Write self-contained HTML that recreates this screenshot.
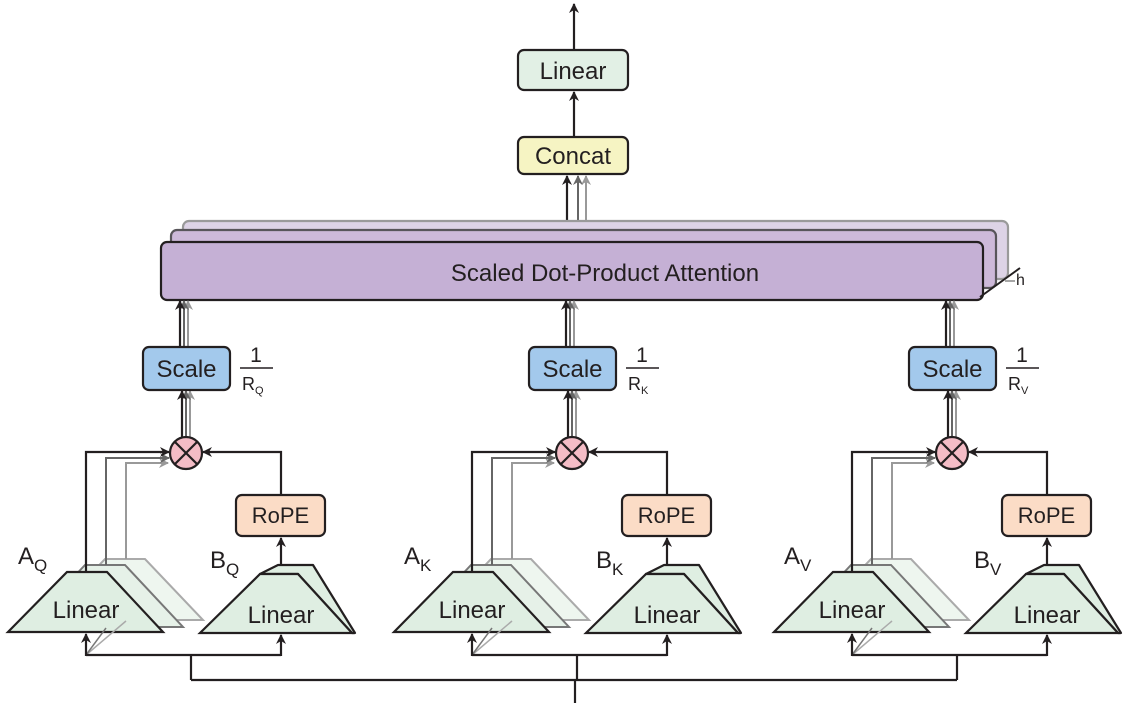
<!DOCTYPE html>
<html><head><meta charset="utf-8"><style>
html,body{margin:0;padding:0;background:#fff}
svg{display:block}
text{font-family:"Liberation Sans",sans-serif;fill:#231f20}
</style></head><body>
<svg width="1128" height="703" viewBox="0 0 1128 703" xmlns="http://www.w3.org/2000/svg">
<defs>
<marker id="ak" markerWidth="10" markerHeight="10" refX="9" refY="5" orient="auto" markerUnits="userSpaceOnUse"><path d="M0,0 L10,5 L0,10 L3,5 Z" fill="#231f20"/></marker>
<marker id="ag" markerWidth="10" markerHeight="10" refX="9" refY="5" orient="auto" markerUnits="userSpaceOnUse"><path d="M0,0 L10,5 L0,10 L3,5 Z" fill="#666"/></marker>
<marker id="al" markerWidth="10" markerHeight="10" refX="9" refY="5" orient="auto" markerUnits="userSpaceOnUse"><path d="M0,0 L10,5 L0,10 L3,5 Z" fill="#999"/></marker>
<g id="grp">
  <line x1="188" y1="347" x2="188" y2="301" stroke="#999" stroke-width="2" marker-end="url(#al)"/>
  <line x1="184" y1="347" x2="184" y2="301" stroke="#666" stroke-width="2" marker-end="url(#ag)"/>
  <line x1="180" y1="347" x2="180" y2="301" stroke="#231f20" stroke-width="2.2" marker-end="url(#ak)"/>
  <line x1="190" y1="437" x2="190" y2="391" stroke="#999" stroke-width="2" marker-end="url(#al)"/>
  <line x1="186" y1="437" x2="186" y2="391" stroke="#666" stroke-width="2" marker-end="url(#ag)"/>
  <line x1="182" y1="437" x2="182" y2="391" stroke="#231f20" stroke-width="2.2" marker-end="url(#ak)"/>
  <rect x="143" y="347" width="87" height="43" rx="6" fill="#a3c9ec" stroke="#231f20" stroke-width="2.2"/>
  <text x="186.5" y="377" font-size="24" text-anchor="middle">Scale</text>
  <line x1="240" y1="368" x2="273" y2="368" stroke="#231f20" stroke-width="1.6"/>
  <text x="256" y="362" font-size="21" text-anchor="middle">1</text>
  <polygon points="105,559 145,559 203,620 47,620" fill="#eef6ef" stroke="#aaa" stroke-width="2"/>
  <polygon points="85,565 125,565 183,627 27,627" fill="#e6f1e8" stroke="#777" stroke-width="2"/>
  <polyline points="126,559 126,463 168,463" fill="none" stroke="#999" stroke-width="2" marker-end="url(#al)"/>
  <polyline points="106,565 106,458 169,458" fill="none" stroke="#666" stroke-width="2" marker-end="url(#ag)"/>
  <polyline points="86,572 86,452 169,452" fill="none" stroke="#231f20" stroke-width="2.2" marker-end="url(#ak)"/>
  <polygon points="67,572 107,572 163,632 8,632" fill="#dfeee2" stroke="#231f20" stroke-width="2.2"/>
  <text x="86" y="618" font-size="24" text-anchor="middle">Linear</text>
  <polygon points="260,574 278,565 313,565 355,633 352,633 298,574" fill="#dfeee2" stroke="#231f20" stroke-width="2.2" stroke-linejoin="round"/>
  <polygon points="260,574 298,574 352,633 200,633" fill="#dfeee2" stroke="#231f20" stroke-width="2.2"/>
  <text x="281" y="623" font-size="24" text-anchor="middle">Linear</text>
  <line x1="281" y1="565" x2="281" y2="538" stroke="#231f20" stroke-width="2.2" marker-end="url(#ak)"/>
  <rect x="236" y="495" width="89" height="41" rx="6" fill="#fbdcc6" stroke="#231f20" stroke-width="2.2"/>
  <text x="280.5" y="523" font-size="22" text-anchor="middle">RoPE</text>
  <polyline points="281,495 281,452 203,452" fill="none" stroke="#231f20" stroke-width="2.2" marker-end="url(#ak)"/>
  <circle cx="186" cy="453" r="16" fill="#f4bcc6" stroke="#231f20" stroke-width="2.2"/>
  <line x1="175" y1="442" x2="197" y2="464" stroke="#231f20" stroke-width="2.2"/>
  <line x1="197" y1="442" x2="175" y2="464" stroke="#231f20" stroke-width="2.2"/>
  <line x1="86" y1="655" x2="126" y2="621" stroke="#aaa" stroke-width="1.5"/>
  <line x1="86" y1="655" x2="106" y2="628" stroke="#777" stroke-width="1.5"/>
  <polyline points="86,655 281,655" fill="none" stroke="#231f20" stroke-width="2.2"/>
  <line x1="86" y1="656" x2="86" y2="634" stroke="#231f20" stroke-width="2.2" marker-end="url(#ak)"/>
  <line x1="281" y1="656" x2="281" y2="635" stroke="#231f20" stroke-width="2.2" marker-end="url(#ak)"/>
  <line x1="191" y1="655" x2="191" y2="680" stroke="#231f20" stroke-width="2.2"/>
</g>
</defs>

<line x1="574" y1="50" x2="574" y2="4" stroke="#231f20" stroke-width="2.2" marker-end="url(#ak)"/>
<rect x="518" y="50" width="110" height="40" rx="6" fill="#e2f0e5" stroke="#231f20" stroke-width="2.2"/>
<text x="573" y="79" font-size="24" text-anchor="middle">Linear</text>
<line x1="574" y1="137" x2="574" y2="92" stroke="#231f20" stroke-width="2.2" marker-end="url(#ak)"/>
<rect x="518" y="137" width="110" height="37" rx="6" fill="#f6f4c3" stroke="#231f20" stroke-width="2.2"/>
<text x="573" y="164" font-size="24" text-anchor="middle">Concat</text>
<line x1="586" y1="221" x2="586" y2="176" stroke="#999" stroke-width="2" marker-end="url(#al)"/>
<line x1="578" y1="230" x2="578" y2="176" stroke="#666" stroke-width="2" marker-end="url(#ag)"/>
<line x1="567" y1="242" x2="567" y2="176" stroke="#231f20" stroke-width="2.2" marker-end="url(#ak)"/>

<rect x="183" y="221" width="825" height="58" rx="6" fill="#ddd3e6" stroke="#9a9a9a" stroke-width="2.2"/>
<rect x="171" y="230" width="825" height="58" rx="6" fill="#cdb9d9" stroke="#58555a" stroke-width="2.2"/>
<rect x="161" y="242" width="822" height="58" rx="6" fill="#c5b0d5" stroke="#231f20" stroke-width="2.2"/>
<text x="605" y="281" font-size="24" text-anchor="middle">Scaled Dot-Product Attention</text>
<line x1="980" y1="297" x2="1020" y2="268" stroke="#231f20" stroke-width="2"/>
<line x1="1005" y1="281" x2="1015" y2="281" stroke="#888" stroke-width="1.5"/>
<text x="1016" y="285" font-size="16">h</text>

<use href="#grp"/>
<use href="#grp" transform="translate(386,0)"/>
<use href="#grp" transform="translate(766,0)"/>

<text x="242" y="390" font-size="18">R<tspan font-size="11" dy="4">Q</tspan></text>
<text x="628" y="390" font-size="18">R<tspan font-size="11" dy="4">K</tspan></text>
<text x="1008" y="390" font-size="18">R<tspan font-size="11" dy="4">V</tspan></text>

<text x="18" y="564" font-size="24">A<tspan font-size="17" dy="7">Q</tspan></text>
<text x="210" y="568" font-size="24">B<tspan font-size="17" dy="7">Q</tspan></text>
<text x="404" y="564" font-size="24">A<tspan font-size="17" dy="7">K</tspan></text>
<text x="596" y="568" font-size="24">B<tspan font-size="17" dy="7">K</tspan></text>
<text x="784" y="564" font-size="24">A<tspan font-size="17" dy="7">V</tspan></text>
<text x="974" y="568" font-size="24">B<tspan font-size="17" dy="7">V</tspan></text>

<polyline points="191,680 957,680" fill="none" stroke="#231f20" stroke-width="2.2"/>
<line x1="575" y1="703" x2="575" y2="680" stroke="#231f20" stroke-width="2.2"/>
</svg>
</body></html>
